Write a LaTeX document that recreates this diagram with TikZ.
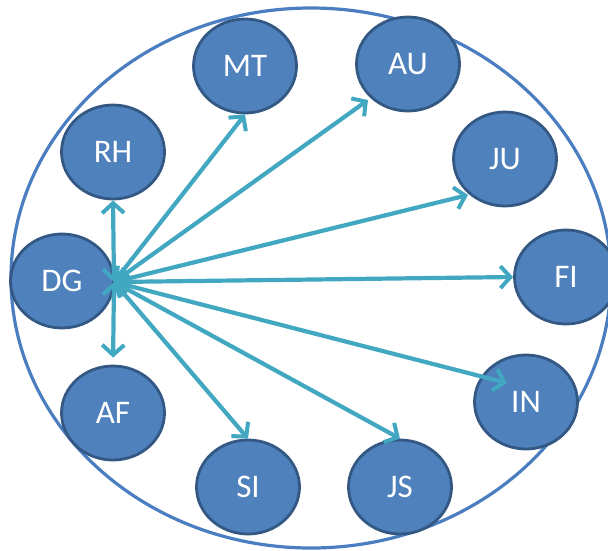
\documentclass[tikz,border=0pt]{standalone}
\usepackage{fontspec}
\setmainfont{Carlito}
\usetikzlibrary{shapes.geometric,arrows.meta}
\definecolor{cfill}{RGB}{79,129,189}
\definecolor{cborder}{RGB}{52,88,132}
\definecolor{arrowc}{RGB}{66,168,194}
\definecolor{outer}{RGB}{74,126,192}
\tikzset{
  person/.style={ellipse, fill=cfill, draw=cborder, line width=2.8pt,
    minimum width=103pt, minimum height=94pt, inner sep=0pt,
    text=white, font=\fontsize{33}{36}\selectfont},
  link/.style={draw=arrowc, line width=4.2pt,
    {Straight Barb[length=10pt,width=22pt,line width=4pt]}-{Straight Barb[length=10pt,width=22pt,line width=4pt]}}
}
\begin{document}
\begin{tikzpicture}[x=1pt,y=-1pt]
\useasboundingbox (0,0) rectangle (608,550);
\draw[outer, line width=3.2pt] (311,278) ellipse [x radius=300, y radius=270];
\node[person] (DG) at (62,281) {DG};
\node[person] (RH) at (113,152) {RH};
\node[person] (MT) at (245,66) {MT};
\node[person] (AU) at (408,64) {AU};
\node[person] (JU) at (505,159) {JU};
\node[person] (FI) at (566,277) {FI};
\node[person] (IN) at (526,402) {IN};
\node[person] (JS) at (400,487) {JS};
\node[person] (SI) at (248,487) {SI};
\node[person] (AF) at (113,413) {AF};
\coordinate (hub) at (114,282);
\coordinate (tAU) at ([shift={(-40,36)}]AU.center);
\coordinate (tJU) at ([shift={(-37,36)}]JU.center);
\coordinate (tIN) at ([shift={(-19,-19)}]IN.center);
\draw[link] (hub) -- (RH.south);
\draw[link, shorten >=7pt] (hub) -- (AF.north);
\draw[link] (hub) -- (MT.south);
\draw[link] (hub) -- (tAU);
\draw[link] (hub) -- (tJU);
\draw[link] (hub) -- (FI.west);
\draw[link] (hub) -- (tIN);
\draw[link] (hub) -- (JS.north);
\draw[link] (hub) -- (SI.north);
\end{tikzpicture}
\end{document}
